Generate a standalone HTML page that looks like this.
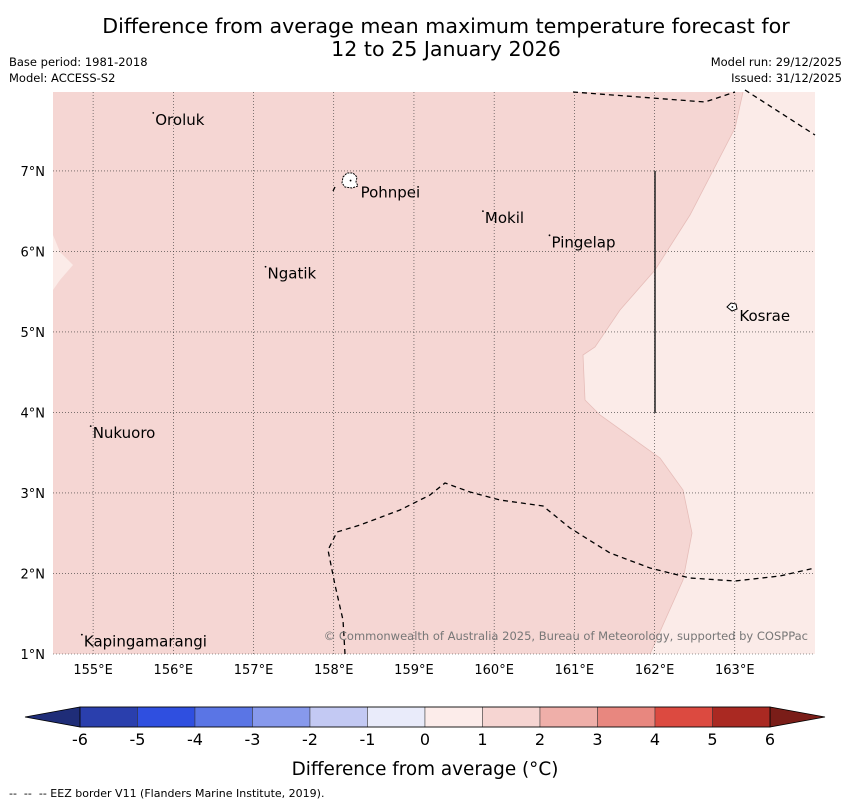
<!DOCTYPE html>
<html><head><meta charset="utf-8"><style>
body{margin:0;background:#fff;font-family:"DejaVu Sans","Liberation Sans",sans-serif}
</style></head><body>
<svg width="850" height="804" xmlns="http://www.w3.org/2000/svg" font-family="DejaVu Sans, Liberation Sans, sans-serif">
<text x="446" y="33" text-anchor="middle" font-size="20.6">Difference from average mean maximum temperature forecast for</text>
<text x="446" y="56" text-anchor="middle" font-size="20.6">12 to 25 January 2026</text>
<text x="9" y="66" font-size="11.5">Base period: 1981-2018</text>
<text x="9" y="82" font-size="11.5">Model: ACCESS-S2</text>
<text x="842" y="66" font-size="11.5" text-anchor="end">Model run: 29/12/2025</text>
<text x="842" y="82" font-size="11.5" text-anchor="end">Issued: 31/12/2025</text>
<g id="map"></g>
<g id="cbar"></g>
<text x="425" y="775" text-anchor="middle" font-size="18.4">Difference from average (°C)</text>
<text x="9" y="797" font-size="11" xml:space="preserve">--  --  -- EEZ border V11 (Flanders Marine Institute, 2019).</text>
</svg>
<script>
const lonTicks=[155,156,157,158,159,160,161,162,163];
const latTicks=[7,6,5,4,3,2,1];
const placeNames=["Oroluk","Pohnpei","Mokil","Pingelap","Ngatik","Kosrae","Nukuoro","Kapingamarangi"];
const placeLon=[155.75,158.21,159.86,160.69,157.15,162.97,154.97,154.86];
const placeLat=[7.72,6.88,6.50,6.20,5.81,5.31,3.83,1.24];
const cbarLevels=[-6,-5,-4,-3,-2,-1,0,1,2,3,4,5,6];
const cbarColors=["#2a3fad","#2f4fe0","#5a75e5","#8799ec","#c3c9f3","#e9ebfa","#fcecea","#f6d5d2","#efafa9","#e8877f","#dc4a40","#aa2922"];
const lon0=154.5,lon1=164.0,lat0=1.0,lat1=7.98;
const X0=53,X1=815,Y0=92,Y1=654;
const px=lon=>X0+(lon-lon0)/(lon1-lon0)*(X1-X0);
const py=lat=>Y1-(lat-lat0)/(lat1-lat0)*(Y1-Y0);
const NS="http://www.w3.org/2000/svg";
function mk(tag,at,parent){const e=document.createElementNS(NS,tag);for(const k in at)e.setAttribute(k,at[k]);parent.appendChild(e);return e;}
const map=document.getElementById('map');
let r=mk('rect',{x:X0,y:Y0,width:X1-X0,height:Y1-Y0,fill:"#f5d6d3"},map);


let p=mk('polygon',{points:"743,92 735,128 690,215 655,270 620,310 595,347 583,355 585,400 600,415 660,458 683,490 692,533 683,580 650,654 815,654 815,92",fill:"#fbebe8"},map);


p=mk('polygon',{points:"53,235 60,252 73,265 60,280 53,290",fill:"#fbebe8"},map);


p=mk('polyline',{points:"743,92 735,128 690,215 655,270 620,310 595,347 583,355 585,400 600,415 660,458 683,490 692,533 683,580 650,654",fill:"none",stroke:"#e6bdb9","stroke-width":0.8},map);


lonTicks.forEach(l=>{const x=px(l);
 let g=mk('line',{x1:x,x2:x,y1:Y0,y2:Y1,stroke:"#333","stroke-width":0.6,"stroke-dasharray":"1,2"},map);
 
 
 let t=mk('text',{x:x,y:674,"text-anchor":"middle","font-size":13},map);t.textContent=l+"°E";
 
 });
latTicks.forEach(l=>{const y=py(l);
 let g=mk('line',{x1:X0,x2:X1,y1:y,y2:y,stroke:"#333","stroke-width":0.6,"stroke-dasharray":"1,2"},map);
 
 
 let t=mk('text',{x:45,y:y+5,"text-anchor":"end","font-size":13},map);t.textContent=l+"°N";
 
 });
const eez=["573,92 705,102 735,92","745,90 815,135","345,654 343,620 335,585 328,550 337,532 360,525 400,510 430,495 445,483 470,492 500,500 543,506 570,528 610,553 650,568 690,578 735,581 780,576 815,568","333,191 335,187"];
eez.forEach(s=>{let e=mk('polyline',{points:s,fill:"none",stroke:"#000","stroke-width":1.3,"stroke-dasharray":"5,4"},map);
 
 });
let vl=mk('line',{x1:655,x2:655,y1:171,y2:413,stroke:"#222","stroke-width":1.5},map);


let isl=mk('path',{d:"M343,177 l4,-4 6,0 4,4 -1,5 2,4 -6,2 -7,-1 -3,-4z",fill:"#fff",stroke:"#000","stroke-width":1,"stroke-dasharray":"2,1"},map);


let isk=mk('path',{d:"M727,307 l4,-4 5,1 1,5 -5,2z",fill:"#fff",stroke:"#000","stroke-width":1},map);


placeNames.forEach((n,i)=>{const x=px(placeLon[i]),y=py(placeLat[i]);
 let d=mk('circle',{cx:x,cy:y,r:0.9,fill:"#000"},map);
 
 
 let dx=2,dy=12;if(n==="Pohnpei"){dx=10;dy=17;} if(n==="Kosrae"){dx=7;dy=14;}
 let t=mk('text',{x:x+dx,y:y+dy,"font-size":15},map);t.textContent=n;
 
 });
let cp=mk('text',{x:808,y:640,"text-anchor":"end","font-size":11.5,fill:"#777"},map);cp.textContent="© Commonwealth of Australia 2025, Bureau of Meteorology, supported by COSPPac";


const cb=document.getElementById('cbar');
const C0=80,C1=770,CY=707,CH=20;
const cx=v=>C0+(v-cbarLevels[0])/(cbarLevels[cbarLevels.length-1]-cbarLevels[0])*(C1-C0);
let tl=mk('polygon',{points:`${C0},${CY} ${C0},${CY+CH} 25,${CY+CH/2}`,fill:"#1f2d78",stroke:"#000","stroke-width":0.8},cb);


let tr=mk('polygon',{points:`${C1},${CY} ${C1},${CY+CH} 825,${CY+CH/2}`,fill:"#7a1d18",stroke:"#000","stroke-width":0.8},cb);


cbarColors.forEach((c,i)=>{const a=cx(cbarLevels[i]),b=cx(cbarLevels[i+1]);
 let s=mk('rect',{x:a,y:CY,width:b-a,height:CH,fill:c,stroke:"#333","stroke-width":0.5},cb);
 
 });
mk('rect',{x:C0,y:CY,width:C1-C0,height:CH,fill:"none",stroke:"#000","stroke-width":0.8},cb);
cbarLevels.forEach(v=>{let t=mk('text',{x:cx(v),y:745,"text-anchor":"middle","font-size":16},cb);t.textContent=v;
 
 });
</script>
</body></html>
